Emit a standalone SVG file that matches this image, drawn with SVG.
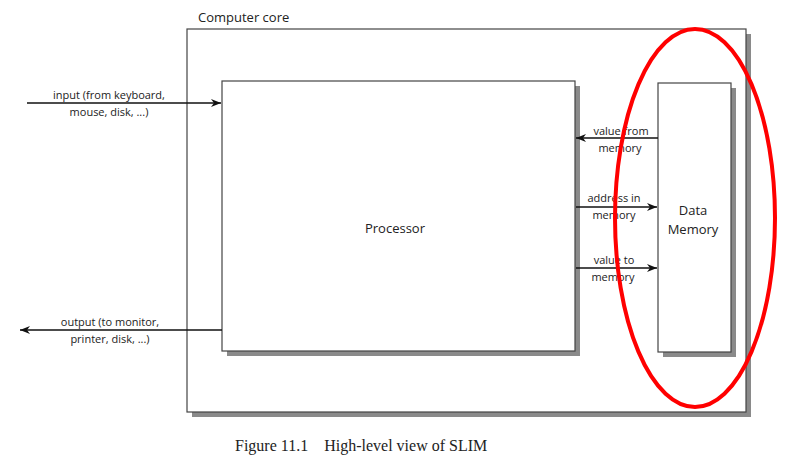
<svg xmlns="http://www.w3.org/2000/svg" width="789" height="467" viewBox="0 0 789 467">
<style>
.box{fill:#fff;stroke:#444;stroke-width:1.2}
.sh{fill:#8a8a8a}
.t{font-family:"Open Sans","DejaVu Sans",sans-serif;font-size:11px;fill:#222;text-anchor:middle}
.c{stroke:#111;stroke-width:1.3;fill:none;marker-end:url(#a)}
</style>
<defs><marker id="a" viewBox="0 0 10 8" refX="10" refY="4" markerWidth="10" markerHeight="8" markerUnits="userSpaceOnUse" orient="auto"><path d="M0,0 L10,4 L0,8 L3,4 Z" fill="#111"/></marker></defs>
<rect width="789" height="467" fill="#fff"/>
<g id="core">
<rect class="sh" x="192" y="34" width="559" height="383"/>
<rect class="box" x="187" y="29" width="559" height="383"/>
<text class="t" x="198" y="22" style="text-anchor:start;font-size:13px">Computer core</text>
</g>
<g id="processor">
<rect class="sh" x="227" y="86" width="353" height="270"/>
<rect class="box" x="222" y="81" width="353" height="270"/>
<text class="t" x="395" y="233" style="font-size:13px">Processor</text>
</g>
<g id="memory">
<rect class="sh" x="663" y="88" width="73" height="269"/>
<rect class="box" x="658" y="83" width="73" height="269"/>
<text class="t" x="693" y="215" style="font-size:13px">Data</text>
<text class="t" x="693" y="234" style="font-size:13px">Memory</text>
</g>
<g id="connectors">
<line class="c" x1="27" y1="103" x2="221" y2="103"/>
<line class="c" x1="222" y1="330" x2="20" y2="330"/>
<line class="c" x1="658" y1="138" x2="576" y2="138"/>
<line class="c" x1="576" y1="207" x2="657" y2="207"/>
<line class="c" x1="576" y1="268" x2="657" y2="268"/>
</g>
<g id="labels">
<text class="t" x="109" y="99">input (from keyboard,</text>
<text class="t" x="109" y="116">mouse, disk, ...)</text>
<text class="t" x="110" y="326">output (to monitor,</text>
<text class="t" x="110" y="343">printer, disk, ...)</text>
<text class="t" x="621" y="135">value from</text>
<text class="t" x="620" y="152">memory</text>
<text class="t" x="614" y="202">address in</text>
<text class="t" x="614" y="219">memory</text>
<text class="t" x="614" y="264">value to</text>
<text class="t" x="613" y="281">memory</text>
</g>
<ellipse cx="695" cy="218" rx="80" ry="189" fill="none" stroke="#f00" stroke-width="4"/>
<text x="235" y="451" style="font-family:'Liberation Serif',serif;font-size:16px;fill:#222" xml:space="preserve">Figure 11.1    High-level view of SLIM</text>
</svg>
